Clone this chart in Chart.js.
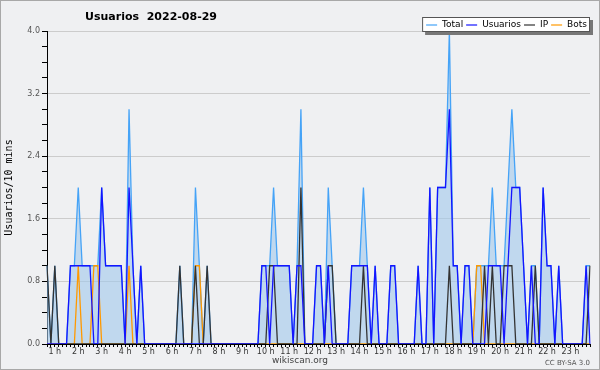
<!DOCTYPE html>
<html><head><meta charset="utf-8">
<script src="https://cdn.jsdelivr.net/npm/chart.js@4.4.1/dist/chart.umd.min.js"></script>
<style>html,body{margin:0;padding:0;background:#fff}#wrap{width:600px;height:370px}</style>
</head><body><div id="wrap"><canvas id="c" width="600" height="370"></canvas></div>
<script>
// ---- data ----
const chartTitle = 'Usuarios  2022-08-29';
const yAxisTitle = 'Usuarios/10 mins';
const footerText = 'wikiscan.org';
const licenseText = 'CC BY-SA 3.0';
const startMinute = 40;   // first sample at 0:40
const stepMinutes = 10;
const yTickValues = [0.0, 0.8, 1.6, 2.4, 3.2, 4.0];

const total = [
 1,0,1,0,0,0,1,1,2,1,
 1,1,1,1,2,1,1,1,1,1,
 0,3,1,0,1,0,0,0,0,0,
 0,0,0,0,1,0,0,0,2,1,
 0,1,0,0,0,0,0,0,0,0,
 0,0,0,0,0,1,1,1,2,1,
 1,1,1,0,1,3,0,0,0,1,
 1,0,2,1,0,0,0,0,1,1,
 1,2,1,0,1,0,0,0,1,1,
 0,0,0,0,0,1,0,0,2,0,
 2,2,2,4,1,1,0,1,1,0,
 1,1,1,1,2,1,1,1,2,3,
 2,2,1,0,1,1,0,2,1,1,
 0,1,0,0,0,0,0,0,1,1];
const usuarios = [
 0,0,0,0,0,0,1,1,1,1,
 1,1,0,0,2,1,1,1,1,1,
 0,2,1,0,1,0,0,0,0,0,
 0,0,0,0,0,0,0,0,0,0,
 0,0,0,0,0,0,0,0,0,0,
 0,0,0,0,0,1,1,0,1,1,
 1,1,1,0,1,1,0,0,0,1,
 1,0,1,0,0,0,0,0,1,1,
 1,1,1,0,1,0,0,0,1,1,
 0,0,0,0,0,1,0,0,2,0,
 2,2,2,3,1,1,0,1,1,0,
 0,0,0,1,1,1,1,0,1,2,
 2,2,1,0,1,0,0,2,1,1,
 0,1,0,0,0,0,0,0,1,0];
const ip = [
 1,0,1,0,0,0,0,0,0,0,
 0,0,0,0,0,0,0,0,0,0,
 0,0,0,0,0,0,0,0,0,0,
 0,0,0,0,1,0,0,0,1,0,
 0,1,0,0,0,0,0,0,0,0,
 0,0,0,0,0,0,0,1,1,0,
 0,0,0,0,0,2,0,0,0,0,
 0,0,1,1,0,0,0,0,0,0,
 0,1,0,0,0,0,0,0,0,0,
 0,0,0,0,0,0,0,0,0,0,
 0,0,0,1,0,0,0,0,0,0,
 0,0,1,0,1,0,0,1,1,1,
 0,0,0,0,0,1,0,0,0,0,
 0,0,0,0,0,0,0,0,0,1];
const bots = [
 0,0,0,0,0,0,0,0,1,0,
 0,0,1,1,0,0,0,0,0,0,
 0,1,0,0,0,0,0,0,0,0,
 0,0,0,0,0,0,0,0,1,1,
 0,0,0,0,0,0,0,0,0,0,
 0,0,0,0,0,0,0,0,0,0,
 0,0,0,0,0,0,0,0,0,0,
 0,0,0,0,0,0,0,0,0,0,
 0,0,0,0,0,0,0,0,0,0,
 0,0,0,0,0,0,0,0,0,0,
 0,0,0,0,0,0,0,0,0,0,
 1,1,0,0,0,0,0,0,0,0,
 0,0,0,0,0,0,0,0,0,0,
 0,0,0,0,0,0,0,0,0,0];

// category labels (10-minute slots)
const times = total.map((_, i) => {
  const m = startMinute + i * stepMinutes;
  return Math.floor(m / 60) + ':' + String(m % 60).padStart(2, '0');
});

// ---- style ----
const BG = '#eff0f2';
const COL_TOTAL = '#45a3f7', COL_FILL = 'rgba(160,200,235,0.6)';
const COL_USR = '#1414ff', COL_IP = '#333333', COL_BOTS = '#ff9900';

const isMajor = v => Math.abs(v / 0.8 - Math.round(v / 0.8)) < 1e-6;

const decor = {
  id: 'decor',
  beforeDraw(chart) {
    const c = chart.ctx;
    c.save(); c.fillStyle = BG; c.fillRect(0, 0, chart.width, chart.height); c.restore();
  },
  afterDraw(chart) {
    const c = chart.ctx;
    c.save();
    // title
    c.fillStyle = '#000';
    c.font = 'bold 11px "DejaVu Sans"';
    c.textAlign = 'center'; c.textBaseline = 'middle';
    c.fillText(chartTitle, 151, 17);
    // legend
    c.font = '9px "DejaVu Sans"';
    const items = [0, 1, 2, 3].map(k => chart.data.datasets.find(d => d.legendIndex === k));
    let w = 4;
    items.forEach(d => { w += 11 + 5 + c.measureText(d.label).width + 3; });
    const bx = 590 - w, by = 17, bh = 15;
    c.fillStyle = '#777'; c.fillRect(bx + 3, by + 3, w, bh);
    c.fillStyle = '#fff'; c.fillRect(bx, by, w, bh);
    c.strokeStyle = '#555'; c.lineWidth = 1; c.strokeRect(bx + 0.5, by + 0.5, w - 1, bh - 1);
    let x = bx + 4;
    c.textAlign = 'left';
    items.forEach(d => {
      c.strokeStyle = d.borderColor; c.lineWidth = 1.2;
      c.beginPath(); c.moveTo(x, by + 8); c.lineTo(x + 11, by + 8); c.stroke();
      x += 16;
      c.fillStyle = '#000';
      c.fillText(d.label, x, by + 8);
      x += c.measureText(d.label).width + 3;
    });
    // footers
    c.fillStyle = '#444'; c.font = '9px "DejaVu Sans"'; c.textAlign = 'center';
    c.fillText(footerText, 300, 361);
    c.font = '7px "DejaVu Sans"'; c.textAlign = 'right'; c.fillStyle = '#555';
    c.fillText(licenseText, 590, 363);
    // frame
    c.strokeStyle = '#a8a8a8'; c.lineWidth = 1;
    c.strokeRect(0.5, 0.5, chart.width - 1, chart.height - 1);
    c.restore();
  }
};

new Chart(document.getElementById('c'), {
  type: 'line',
  data: {
    labels: times,
    datasets: [
      { label: 'Usuarios', data: usuarios, borderColor: COL_USR, legendIndex: 1, order: 1, fill: false },
      { label: 'IP', data: ip, borderColor: COL_IP, legendIndex: 2, order: 2, fill: false },
      { label: 'Bots', data: bots, borderColor: COL_BOTS, legendIndex: 3, order: 3, fill: false },
      { label: 'Total', data: total, borderColor: COL_TOTAL, backgroundColor: COL_FILL, legendIndex: 0, order: 4, fill: 'origin' }
    ]
  },
  options: {
    responsive: false,
    animation: false,
    devicePixelRatio: 1,
    layout: { padding: { left: 0, top: 31, right: 10, bottom: 0 } },
    elements: { point: { radius: 0 }, line: { borderWidth: 1.3, tension: 0 } },
    plugins: { legend: { display: false }, title: { display: false }, tooltip: { enabled: false } },
    scales: {
      x: {
        type: 'category',
        offset: false,
        border: { color: '#000', width: 1 },
        grid: { drawOnChartArea: false, drawTicks: true, tickLength: 3, tickColor: '#000' },
        ticks: {
          autoSkip: false, maxRotation: 0, minRotation: 0, padding: 0,
          color: '#333', font: { family: 'DejaVu Sans', size: 8 },
          callback: function (v, i) {
            const m = startMinute + i * stepMinutes;
            return m % 60 === 0 ? (m / 60) + ' h' : '';
          }
        },
        afterFit: s => { s.height = 26; }
      },
      y: {
        min: 0, max: 4,
        border: { color: '#000', width: 1 },
        grid: {
          color: ctx => (isMajor(ctx.tick.value) && ctx.tick.value > 0) ? '#cccccc' : 'rgba(0,0,0,0)',
          tickColor: '#000', tickLength: 5, drawTicks: true
        },
        ticks: {
          stepSize: 0.2, autoSkip: false, maxTicksLimit: 100, padding: 2,
          color: '#555', font: { family: 'DejaVu Sans', size: 8 },
          callback: v => (yTickValues.some(t => Math.abs(t - v) < 1e-6)) ? v.toFixed(1) : ''
        },
        title: { display: true, text: yAxisTitle, color: '#000', font: { family: 'DejaVu Sans Mono', size: 10 }, padding: { top: 3, bottom: 0 } },
        afterFit: s => { s.width = 47; }
      }
    }
  },
  plugins: [decor]
});
</script></body></html>
